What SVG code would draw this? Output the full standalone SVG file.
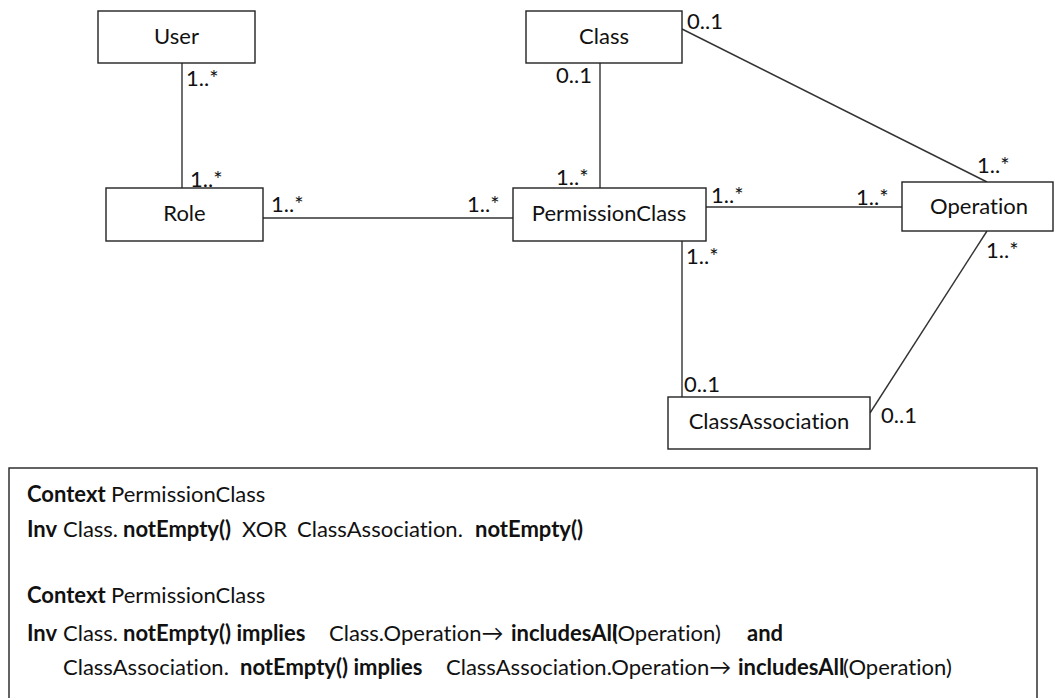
<svg xmlns="http://www.w3.org/2000/svg" width="1054" height="698" viewBox="0 0 1054 698">
<style>
.box{fill:#fff;stroke:#222;stroke-width:1.4}
.ln{fill:none;stroke:#333;stroke-width:1.4}
.t{font-family:Lato,"Liberation Sans",sans-serif;font-size:22px;fill:#111;font-variant-ligatures:none}
.c{text-anchor:middle}
.m{font-family:Lato,"Liberation Sans",sans-serif;font-size:22px;fill:#111}
.b{font-weight:bold}
</style>
<rect width="1054" height="698" fill="#fff"/>
<g id="connectors">
<line class="ln" x1="182" y1="63" x2="182" y2="188"/>
<line class="ln" x1="263" y1="218" x2="513" y2="218"/>
<line class="ln" x1="600" y1="63" x2="600" y2="188"/>
<line class="ln" x1="682" y1="29" x2="987" y2="182"/>
<line class="ln" x1="706" y1="207" x2="902" y2="207"/>
<line class="ln" x1="682" y1="241" x2="682" y2="397"/>
<line class="ln" x1="987" y1="231" x2="870" y2="413"/>
<text class="m" x="186" y="86">1..*</text>
<text class="m" x="190" y="187">1..*</text>
<text class="m" x="271" y="212">1..*</text>
<text class="m" x="467" y="212">1..*</text>
<text class="m" x="687" y="29">0..1</text>
<text class="m" x="556" y="83">0..1</text>
<text class="m" x="556" y="185">1..*</text>
<text class="m" x="711" y="203">1..*</text>
<text class="m" x="856" y="205">1..*</text>
<text class="m" x="977" y="173">1..*</text>
<text class="m" x="686" y="264">1..*</text>
<text class="m" x="986" y="258">1..*</text>
<text class="m" x="684" y="392">0..1</text>
<text class="m" x="881" y="423">0..1</text>
</g>
<g id="User"><rect class="box" x="98" y="11" width="157" height="52"/><text class="t c" x="176.5" y="44">User</text></g>
<g id="Role"><rect class="box" x="106" y="188" width="157" height="53"/><text class="t c" x="184.5" y="221">Role</text></g>
<g id="Class"><rect class="box" x="526" y="11" width="156" height="52"/><text class="t c" x="604" y="44">Class</text></g>
<g id="PermissionClass"><rect class="box" x="513" y="188" width="193" height="53"/><text class="t c" x="609" y="221">PermissionClass</text></g>
<g id="Operation"><rect class="box" x="902" y="182" width="151" height="49"/><text class="t c" x="979" y="214">Operation</text></g>
<g id="ClassAssociation"><rect class="box" x="668" y="397" width="202" height="52"/><text class="t c" x="769" y="429">ClassAssociation</text></g>
<g id="constraints">
<rect class="box" x="9" y="468" width="1028" height="240"/>
<text class="t" y="502"><tspan x="27" class="b">Context</tspan><tspan x="111">PermissionClass</tspan></text>
<text class="t" y="537"><tspan x="27" class="b">Inv</tspan><tspan x="63">Class.</tspan><tspan x="123" class="b">notEmpty()</tspan><tspan x="242">XOR</tspan><tspan x="297">ClassAssociation.</tspan><tspan x="475" class="b">notEmpty()</tspan></text>
<text class="t" y="603"><tspan x="27" class="b">Context</tspan><tspan x="111">PermissionClass</tspan></text>
<text class="t" y="641"><tspan x="27" class="b">Inv</tspan><tspan x="63">Class.</tspan><tspan x="123" class="b">notEmpty() implies</tspan><tspan x="329">Class.Operation→</tspan><tspan x="511" class="b">includesAll</tspan><tspan x="612">(Operation)</tspan><tspan x="747" class="b">and</tspan></text>
<text class="t" y="675"><tspan x="63">ClassAssociation.</tspan><tspan x="240" class="b">notEmpty() implies</tspan><tspan x="446">ClassAssociation.Operation→</tspan><tspan x="738" class="b">includesAll</tspan><tspan x="843">(Operation)</tspan></text>
</g>
</svg>
